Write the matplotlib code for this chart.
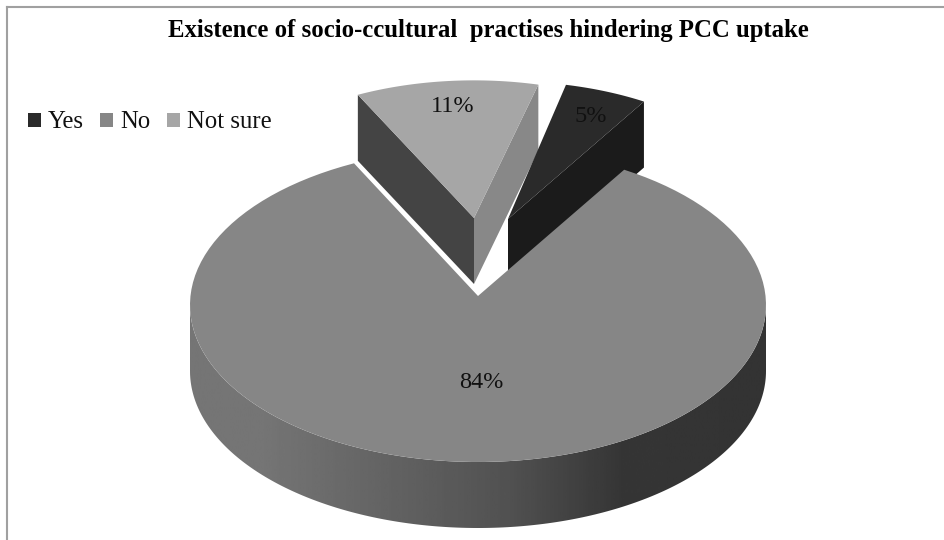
"""Exploded 3D-style pie: socio-cultural practises and PCC uptake."""
import numpy as np
import matplotlib
matplotlib.use("Agg")
import matplotlib.pyplot as plt
from matplotlib.patches import Polygon, Rectangle

TITLE = "Existence of socio-ccultural  practises hindering PCC uptake"
categories = ["Yes", "No", "Not sure"]
values = [5, 84, 11]
top_colors = ["#2a2a2a", "#868686", "#a6a6a6"]

# ── pie geometry, in pixels ──
CX, CY = 478, 305      # ellipse centre
RX, RY = 288, 157
APEX_Y = 296           # perspective pulls the apex above the ellipse centre
DEPTH = 66
START = 12.5           # degrees clockwise from 12 o'clock
BACK_SCALE = 0.93      # exploded slices sit further back
NS_TWIST = 1.4         # view skew on the back-left slice
NO_TWIST = 1.6


def arc(a0, a1, n=120):
    t = np.radians(np.linspace(a0, a1, n))
    return np.column_stack([CX + RX * np.sin(t), CY - RY * np.cos(t)])


def slice_top(a0, a1, dx=0, dy=0, scale=1.0):
    """Slice outline on the top face, apex first."""
    apex = np.array([CX, APEX_Y])
    pts = apex + (arc(a0, a1) - apex) * scale
    return np.vstack([apex, pts]) + [dx, dy]


edges = START + np.cumsum([0] + values) * 3.6
yes_a0, yes_a1 = edges[0], edges[1]
no_a0, no_a1 = edges[1], edges[2] + NO_TWIST
ns_a0, ns_a1 = edges[2] + NS_TWIST, edges[3] + NS_TWIST

fig = plt.figure(figsize=(9.45, 5.4), dpi=100)
ax = fig.add_axes([0, 0, 1, 1])
ax.axis("off")

# outer frame, open to the right and the bottom
ax.plot([6.5, 6.5], [540, 6.5], color="#a0a0a0", lw=1.5, zorder=1)
ax.plot([6.5, 945], [6.5, 6.5], color="#a0a0a0", lw=1.5, zorder=1)

# ── Not sure slice ──
top = slice_top(ns_a0, ns_a1, dx=-4, dy=-78, scale=BACK_SCALE)
apex, left, right = top[0], top[1], top[-1]
ax.add_patch(Polygon([left, apex, apex + [0, DEPTH], left + [0, DEPTH]],
                     fc="#444444", ec="none", zorder=2))
ax.add_patch(Polygon([apex, right, right + [0, DEPTH], apex + [0, DEPTH]],
                     fc="#888888", ec="none", zorder=2))
ax.add_patch(Polygon(top, fc=top_colors[2], ec="none", zorder=3))

# ── Yes slice ──
top = slice_top(yes_a0, yes_a1, dx=30, dy=-77, scale=BACK_SCALE)
apex, right = top[0], top[-1]
ax.add_patch(Polygon([apex, right, right + [0, DEPTH], apex + [0, DEPTH]],
                     fc="#1b1b1b", ec="none", zorder=2))
ax.add_patch(Polygon(top, fc=top_colors[0], ec="none", zorder=3))

# ── No slice: shaded rim, then top face ──
front = arc(90, 270, 200)
rim = np.vstack([front, (front + [0, DEPTH])[::-1]])
rim_patch = Polygon(rim, fc="none", ec="none", zorder=4)
ax.add_patch(rim_patch)
shade = np.interp(np.linspace(0, 1, 300), [0, 0.12, 0.55, 0.75, 1],
                  [0.46, 0.46, 0.32, 0.21, 0.20])[None, :]
img = ax.imshow(shade, cmap="gray", vmin=0, vmax=1, aspect="auto",
                extent=[CX - RX, CX + RX, CY + RY + DEPTH, CY - RY], zorder=4)
img.set_clip_path(rim_patch)
ax.set_xlim(0, 945)
ax.set_ylim(540, 0)
ax.add_patch(Polygon(slice_top(no_a0, no_a1), fc=top_colors[1], ec="none",
                     zorder=5))

# ── value labels ──
label_pos = [(591, 116), (481, 383), (453, 107)]
for v, (x, y) in zip(values, label_pos):
    ax.text(x, y, f"{v}%", ha="center", va="center", fontsize=17.5,
            family="Liberation Serif", color="#111111", zorder=6)

# ── title and legend ──
ax.text(488, 31, TITLE, ha="center", va="center", fontsize=17.8, weight="bold",
        family="Liberation Serif", color="black")
legend_x = [28, 100, 167]
for name, c, x in zip(categories, top_colors, legend_x):
    ax.add_patch(Rectangle((x, 113), 13, 14, fc=c, ec="none"))
    ax.text(x + 20, 122, name, ha="left", va="center", fontsize=17.8,
            family="Liberation Serif", color="#111111")

fig.savefig("out.png", dpi=100)
